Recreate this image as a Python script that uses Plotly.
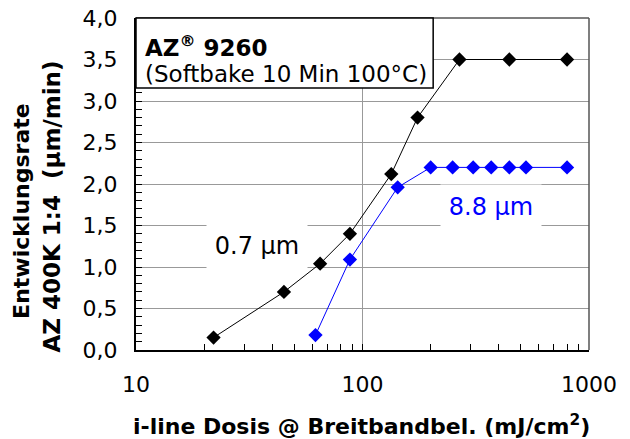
import plotly.graph_objects as go

# Data
dose_07 = [22, 45, 65, 88, 134, 175, 268, 445, 800]
rate_07 = [0.15, 0.70, 1.04, 1.40, 2.12, 2.80, 3.50, 3.50, 3.50]

dose_88 = [62, 88, 143, 200, 250, 308, 370, 445, 527, 800]
rate_88 = [0.18, 1.09, 1.96, 2.20, 2.20, 2.20, 2.20, 2.20, 2.20, 2.20]

x_labels = {10: "10", 100: "100", 1000: "1000"}
x_tickvals = [10, 20, 30, 40, 50, 60, 70, 80, 90,
              100, 200, 300, 400, 500, 600, 700, 800, 900, 1000]
x_ticktext = [x_labels.get(v, "") for v in x_tickvals]
y_tickvals = [0, 0.5, 1.0, 1.5, 2.0, 2.5, 3.0, 3.5, 4.0]

FONT = "DejaVu Sans"

fig = go.Figure()
fig.add_trace(go.Scatter(
    x=dose_07, y=rate_07, mode="lines+markers",
    line=dict(color="black", width=1),
    marker=dict(symbol="diamond", size=11, color="black"),
    showlegend=False, cliponaxis=False))
fig.add_trace(go.Scatter(
    x=dose_88, y=rate_88, mode="lines+markers",
    line=dict(color="#0000FF", width=1),
    marker=dict(symbol="diamond", size=11, color="#0000FF"),
    showlegend=False, cliponaxis=False))

fig.update_layout(
    width=630, height=439,
    margin=dict(l=136, r=41, t=18, b=89),
    paper_bgcolor="white", plot_bgcolor="white",
    separators=", ",
    font=dict(family=FONT, size=22, color="black"),
    xaxis=dict(
        type="log", range=[1, 3],
        tickmode="array", tickvals=x_tickvals, ticktext=x_ticktext,
        ticks="inside", ticklen=6, tickcolor="black", tickwidth=1,
        showgrid=False,
        showline=True, linecolor="black", linewidth=2,
        zeroline=False, automargin=False,
        tickfont=dict(size=22),
        ticklabelstandoff=14,
    ),
    yaxis=dict(
        range=[0, 4], tickvals=y_tickvals, tickformat=".1f",
        ticks="inside", ticklen=6, tickcolor="black",
        showgrid=True, gridcolor="#999999", gridwidth=1,
        showline=True, linecolor="black", linewidth=2,
        minor=dict(ticks="inside", ticklen=6, tickcolor="black", dtick=0.1, showgrid=False),
        zeroline=False, automargin=False,
        tickfont=dict(size=22),
        ticklabelstandoff=12,
    ),
    shapes=[
        dict(type="line", xref="x", yref="paper", x0=100, x1=100, y0=0, y1=1,
             line=dict(color="#999999", width=1), layer="below"),
        dict(type="line", xref="paper", yref="paper", x0=0, x1=1, y0=1, y1=1,
             line=dict(color="#555555", width=1.5), layer="above"),
        dict(type="line", xref="paper", yref="paper", x0=1, x1=1, y0=0, y1=1,
             line=dict(color="#555555", width=1.5), layer="above"),
        dict(type="rect", xref="paper", yref="paper", x0=0, x1=0.656, y0=0.789, y1=1,
             fillcolor="white", line=dict(color="black", width=1.5), layer="above"),
    ],
    annotations=[
        dict(text="<b>AZ<sup>®</sup> 9260</b>", xref="paper", yref="paper",
             x=0.0155, y=0.917, xanchor="left", yanchor="middle", showarrow=False,
             font=dict(size=23)),
        dict(text="(Softbake 10 Min 100°C)", xref="paper", yref="paper",
             x=0.0155, y=0.83, xanchor="left", yanchor="middle", showarrow=False,
             font=dict(size=23)),
        dict(text="0.7 µm", xref="paper", yref="paper",
             x=0.267, y=0.313, xanchor="center", yanchor="middle", showarrow=False,
             bgcolor="white", width=98, height=42, font=dict(size=24, color="black")),
        dict(text="8.8 µm", xref="paper", yref="paper",
             x=0.784, y=0.431, xanchor="center", yanchor="middle", showarrow=False,
             bgcolor="white", width=98, height=42, font=dict(size=24, color="#0000FF")),
        # axis titles
        dict(text="<b>i-line Dosis @ Breitbandbel. (mJ/cm<sup>2</sup>)</b>",
             xref="paper", yref="paper", x=0.497, y=-0.226,
             xanchor="center", yanchor="middle", showarrow=False, font=dict(size=22)),
        dict(text="<b>Entwicklungsrate</b>", xref="paper", yref="paper",
             x=(22 - 136) / 453, y=0.419, textangle=-90,
             xanchor="center", yanchor="middle", showarrow=False, font=dict(size=22)),
        dict(text="<b>AZ 400K 1:4\u00a0 (µm/min)</b>", xref="paper", yref="paper",
             x=(52 - 136) / 453, y=0.432, textangle=-90,
             xanchor="center", yanchor="middle", showarrow=False, font=dict(size=23)),
    ],
)

fig.write_html("out.html")
